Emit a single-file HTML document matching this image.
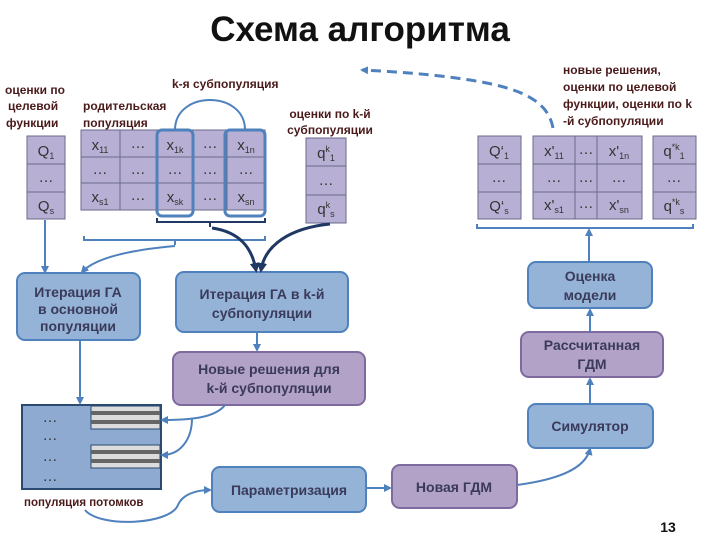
<!DOCTYPE html>
<html><head><meta charset="utf-8"><style>
html,body{margin:0;padding:0;background:#fff;}
svg{display:block;font-family:"Liberation Sans","Noto Sans CJK SC",sans-serif;}
.b{fill:#95b3d7;stroke:#4f81bd;stroke-width:2;}
.p{fill:#b3a2c7;stroke:#7f6a9f;stroke-width:2;}
.c{fill:#b8b0d4;stroke:#6a6a8a;stroke-width:1;}
.t{font-size:14px;font-weight:bold;fill:#3a3a5a;text-anchor:middle;}
.l{font-size:12px;font-weight:bold;fill:#4a1a1a;}
.m{font-size:15px;fill:#333;text-anchor:middle;}
.ln{stroke:#4f81bd;stroke-width:2;fill:none;}
.dk{stroke:#1f3864;stroke-width:3;fill:none;}
</style></head><body>
<svg width="720" height="540" viewBox="0 0 720 540">
<defs>
<marker id="a" markerWidth="8" markerHeight="8" refX="6" refY="4" orient="auto" markerUnits="userSpaceOnUse"><path d="M0,0 L8,4 L0,8z" fill="#4f81bd"/></marker>
<marker id="d" markerWidth="10" markerHeight="10" refX="7" refY="5" orient="auto" markerUnits="userSpaceOnUse"><path d="M0,0 L10,5 L0,10z" fill="#1f3864"/></marker>
</defs>
<text x="360" y="41" font-size="35" font-weight="bold" text-anchor="middle" fill="#111">Схема алгоритма</text>

<text class="l" x="5" y="94">оценки по</text>
<text class="l" x="8" y="110">целевой</text>
<text class="l" x="6" y="127">функции</text>
<text class="l" x="83" y="110">родительская</text>
<text class="l" x="83" y="127">популяция</text>
<text class="l" x="172" y="88">k-я субпопуляция</text>
<text class="l" x="330" y="118" text-anchor="middle">оценки по k-й</text>
<text class="l" x="330" y="134" text-anchor="middle">субпопуляции</text>

<rect class="c" x="27" y="136" width="38" height="28"/><rect class="c" x="27" y="164" width="38" height="28"/><rect class="c" x="27" y="192" width="38" height="27"/>
<text class="m" x="46" y="156">Q<tspan font-size="9" dy="3">1</tspan></text>
<text class="m" x="46" y="182">…</text>
<text class="m" x="46" y="211">Q<tspan font-size="9" dy="3">s</tspan></text>

<g>
<rect class="c" x="81" y="130" width="39" height="27"/><rect class="c" x="120" y="130" width="37" height="27"/><rect class="c" x="157" y="130" width="36" height="27"/><rect class="c" x="193" y="130" width="34" height="27"/><rect class="c" x="227" y="130" width="38" height="27"/>
<rect class="c" x="81" y="157" width="39" height="26"/><rect class="c" x="120" y="157" width="37" height="26"/><rect class="c" x="157" y="157" width="36" height="26"/><rect class="c" x="193" y="157" width="34" height="26"/><rect class="c" x="227" y="157" width="38" height="26"/>
<rect class="c" x="81" y="183" width="39" height="27"/><rect class="c" x="120" y="183" width="37" height="27"/><rect class="c" x="157" y="183" width="36" height="27"/><rect class="c" x="193" y="183" width="34" height="27"/><rect class="c" x="227" y="183" width="38" height="27"/>
</g>
<text class="m" x="100" y="150">x<tspan font-size="9" dy="3">11</tspan></text><text class="m" x="138" y="148">…</text><text class="m" x="175" y="150">x<tspan font-size="9" dy="3">1k</tspan></text><text class="m" x="210" y="148">…</text><text class="m" x="246" y="150">x<tspan font-size="9" dy="3">1n</tspan></text>
<text class="m" x="100" y="174">…</text><text class="m" x="138" y="174">…</text><text class="m" x="175" y="174">…</text><text class="m" x="210" y="174">…</text><text class="m" x="246" y="174">…</text>
<text class="m" x="100" y="202">x<tspan font-size="9" dy="3">s1</tspan></text><text class="m" x="138" y="200">…</text><text class="m" x="175" y="202">x<tspan font-size="9" dy="3">sk</tspan></text><text class="m" x="210" y="200">…</text><text class="m" x="246" y="202">x<tspan font-size="9" dy="3">sn</tspan></text>
<rect x="157" y="130" width="36" height="86" rx="5" fill="none" stroke="#4f81bd" stroke-width="3"/>
<rect x="225" y="130" width="40" height="86" rx="5" fill="none" stroke="#4f81bd" stroke-width="3"/>
<path d="M175,130 C175,90 245,90 245,130" stroke="#4f81bd" stroke-width="2" fill="none"/>
<path d="M157,218 v4 h108 v-4 M210,222 v5" stroke="#1f3864" stroke-width="2" fill="none"/>
<path d="M84,236 v4 h181 v-4 M175,240 v5" stroke="#4f81bd" stroke-width="2" fill="none"/>

<rect class="c" x="306" y="138" width="40" height="28"/><rect class="c" x="306" y="166" width="40" height="29"/><rect class="c" x="306" y="195" width="40" height="28"/>
<text class="m" x="326" y="158">q<tspan font-size="9" dy="-6">k</tspan><tspan font-size="9" dy="9">1</tspan></text>
<text class="m" x="326" y="185">…</text>
<text class="m" x="326" y="214">q<tspan font-size="9" dy="-6">k</tspan><tspan font-size="9" dy="9">s</tspan></text>

<text class="l" x="563" y="74">новые решения,</text>
<text class="l" x="563" y="91">оценки по целевой</text>
<text class="l" x="563" y="108">функции, оценки по k</text>
<text class="l" x="563" y="125">-й субпопуляции</text>
<path d="M553,128 C548,100 520,88 470,80 C430,74 400,72 362,70" stroke="#4f81bd" stroke-width="3" stroke-dasharray="10,6" fill="none" marker-end="url(#a)"/>

<rect class="c" x="478" y="136" width="43" height="28"/><rect class="c" x="478" y="164" width="43" height="28"/><rect class="c" x="478" y="192" width="43" height="27"/>
<text class="m" x="499" y="156">Q‘<tspan font-size="9" dy="3">1</tspan></text><text class="m" x="499" y="182">…</text><text class="m" x="499" y="211">Q‘<tspan font-size="9" dy="3">s</tspan></text>
<rect class="c" x="533" y="136" width="42" height="28"/><rect class="c" x="575" y="136" width="22" height="28"/><rect class="c" x="597" y="136" width="45" height="28"/>
<rect class="c" x="533" y="164" width="42" height="28"/><rect class="c" x="575" y="164" width="22" height="28"/><rect class="c" x="597" y="164" width="45" height="28"/>
<rect class="c" x="533" y="192" width="42" height="27"/><rect class="c" x="575" y="192" width="22" height="27"/><rect class="c" x="597" y="192" width="45" height="27"/>
<text class="m" x="554" y="156">x'<tspan font-size="9" dy="3">11</tspan></text><text class="m" x="586" y="154">…</text><text class="m" x="619" y="156">x'<tspan font-size="9" dy="3">1n</tspan></text>
<text class="m" x="554" y="182">…</text><text class="m" x="586" y="182">…</text><text class="m" x="619" y="182">…</text>
<text class="m" x="554" y="210">x'<tspan font-size="9" dy="3">s1</tspan></text><text class="m" x="586" y="208">…</text><text class="m" x="619" y="210">x'<tspan font-size="9" dy="3">sn</tspan></text>
<rect class="c" x="653" y="136" width="43" height="28"/><rect class="c" x="653" y="164" width="43" height="28"/><rect class="c" x="653" y="192" width="43" height="27"/>
<text class="m" x="674" y="156">q<tspan font-size="9" dy="-6">*k</tspan><tspan font-size="9" dy="9">1</tspan></text><text class="m" x="674" y="182">…</text><text class="m" x="674" y="211">q<tspan font-size="9" dy="-6">*k</tspan><tspan font-size="9" dy="9">s</tspan></text>
<path d="M477,224 v4 h216 v-4" stroke="#4f81bd" stroke-width="2" fill="none"/>

<rect class="b" x="17" y="273" width="123" height="67" rx="8"/>
<text class="t" x="78" y="297">Итерация ГА</text><text class="t" x="78" y="314">в основной</text><text class="t" x="78" y="331">популяции</text>
<rect class="b" x="176" y="272" width="172" height="60" rx="8"/>
<text class="t" x="262" y="299">Итерация ГА в k-й</text><text class="t" x="262" y="318">субпопуляции</text>
<rect class="p" x="173" y="352" width="192" height="53" rx="8"/>
<text class="t" x="269" y="374">Новые решения для</text><text class="t" x="269" y="393">k-й субпопуляции</text>
<rect class="b" x="528" y="262" width="124" height="46" rx="8"/>
<text class="t" x="590" y="281">Оценка</text><text class="t" x="590" y="300">модели</text>
<rect class="p" x="521" y="332" width="142" height="45" rx="8"/>
<text class="t" x="592" y="350">Рассчитанная</text><text class="t" x="592" y="369">ГДМ</text>
<rect class="b" x="528" y="404" width="125" height="44" rx="8"/>
<text class="t" x="590" y="431">Симулятор</text>
<rect class="b" x="212" y="467" width="154" height="45" rx="8"/>
<text class="t" x="289" y="495">Параметризация</text>
<rect class="p" x="392" y="465" width="125" height="43" rx="8"/>
<text class="t" x="454" y="492">Новая ГДМ</text>

<rect x="22" y="405" width="139" height="84" fill="#8eaad0" stroke="#2a4a70" stroke-width="2"/>
<g>
<rect x="91" y="406" width="69" height="23" fill="#dcdcdc" stroke="#2a4a70"/>
<rect x="91" y="411" width="69" height="4" fill="#666"/><rect x="91" y="420" width="69" height="4" fill="#666"/>
<rect x="91" y="445" width="69" height="23" fill="#dcdcdc" stroke="#2a4a70"/>
<rect x="91" y="450" width="69" height="4" fill="#666"/><rect x="91" y="459" width="69" height="4" fill="#666"/>
</g>
<text x="50" y="422" class="m">…</text><text x="50" y="440" class="m">…</text><text x="50" y="461" class="m">…</text><text x="50" y="481" class="m">…</text>
<text class="l" x="24" y="506" style="font-size:11.5px">популяция потомков</text>

<path class="ln" d="M45,220 V272" marker-end="url(#a)"/>
<path class="ln" d="M175,246 C130,250 95,258 82,272" marker-end="url(#a)"/>
<path class="dk" d="M212,228 C240,232 252,248 256,270" marker-end="url(#d)"/>
<path class="dk" d="M330,224 C290,228 265,245 261,270" marker-end="url(#d)"/>
<path class="ln" d="M80,340 V403" marker-end="url(#a)"/>
<path class="ln" d="M257,332 V350" marker-end="url(#a)"/>
<path class="ln" d="M225,405 C215,418 190,420 162,420" marker-end="url(#a)"/>
<path class="ln" d="M192,418 C192,440 180,455 162,455" marker-end="url(#a)"/>
<path class="ln" d="M85,510 C100,528 170,525 178,505 C182,495 195,490 210,490" marker-end="url(#a)"/>
<path class="ln" d="M366,488 H390" marker-end="url(#a)"/>
<path class="ln" d="M517,485 C555,480 585,470 590,449" marker-end="url(#a)"/>
<path class="ln" d="M590,404 V379" marker-end="url(#a)"/>
<path class="ln" d="M590,332 V310" marker-end="url(#a)"/>
<path class="ln" d="M589,262 V230" marker-end="url(#a)"/>

<text x="668" y="532" font-size="14" font-weight="bold" text-anchor="middle" fill="#111">13</text>
</svg>
</body></html>
